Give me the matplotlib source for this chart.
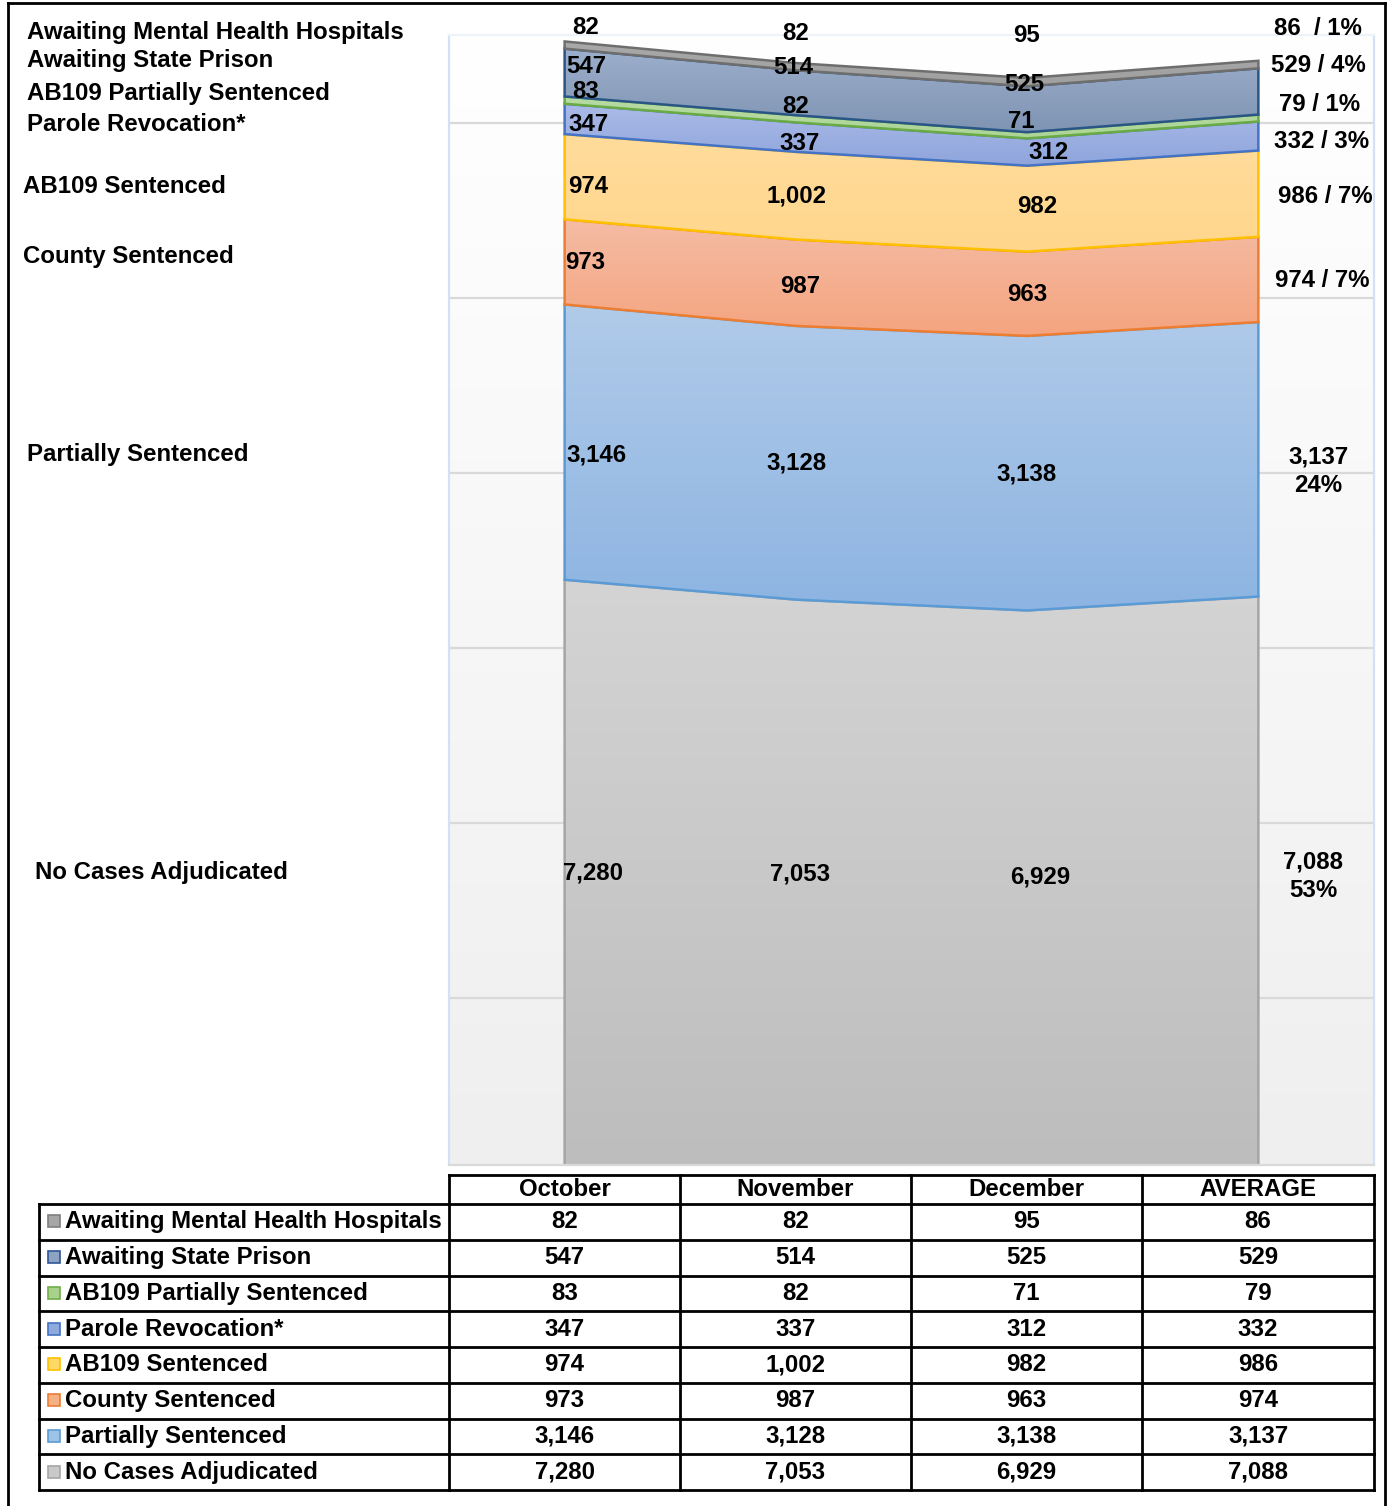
import numpy as np
import matplotlib
matplotlib.use("Agg")
import matplotlib.pyplot as plt
from matplotlib.colors import LinearSegmentedColormap
from matplotlib.patches import Rectangle

# ---------------- data ----------------
categories = ["October", "November", "December", "AVERAGE"]
series_names = [
    "Awaiting Mental Health Hospitals",
    "Awaiting State Prison",
    "AB109 Partially Sentenced",
    "Parole Revocation*",
    "AB109 Sentenced",
    "County Sentenced",
    "Partially Sentenced",
    "No Cases Adjudicated",
]
mental_health = [82, 82, 95, 86]
state_prison = [547, 514, 525, 529]
ab109_partial = [83, 82, 71, 79]
parole_revocation = [347, 337, 312, 332]
ab109_sentenced = [974, 1002, 982, 986]
county_sentenced = [973, 987, 963, 974]
partially_sentenced = [3146, 3128, 3138, 3137]
no_cases = [7280, 7053, 6929, 7088]
average_pct = [1, 4, 1, 3, 7, 7, 24, 53]

series_values = [mental_health, state_prison, ab109_partial, parole_revocation,
                 ab109_sentenced, county_sentenced, partially_sentenced, no_cases]

# styles (top color, bottom color, edge color) per series, table order
styles = [
    ("#a9a9a9", "#a0a0a0", "#6e6e6e"),
    ("#9cafcc", "#7f94b3", "#2a5686"),
    ("#b7dba3", "#add597", "#6aaa45"),
    ("#abbae7", "#8ea5dc", "#4472c4"),
    ("#ffdc9c", "#ffd68b", "#ffc000"),
    ("#f5bca4", "#f4a47f", "#ed7d31"),
    ("#b1cbe9", "#8db4e2", "#5b9bd5"),
    ("#d4d4d4", "#bdbdbd", "#a5a5a5"),
]
key_colors = [
    ("#a6a6a6", "#7f7f7f"),
    ("#8ea3c2", "#2f5597"),
    ("#a9d18e", "#70ad47"),
    ("#8faadc", "#4472c4"),
    ("#ffd966", "#ffc000"),
    ("#f4b183", "#ed7d31"),
    ("#9dc3e6", "#5b9bd5"),
    ("#c9c9c9", "#a5a5a5"),
]

W, H = 1391, 1506
FONT = "Liberation Sans"
FS = 17.3

fig = plt.figure(figsize=(W / 100, H / 100), dpi=100)
fig.patch.set_facecolor("white")

# ---------------- main area chart ----------------
PXU = 0.0875
ylo = 2500 - (1165 - 998) / PXU
yhi = 2500 + (998 - 35) / PXU
ax = fig.add_axes([449 / W, 1 - 1165 / H, 925 / W, 1130 / H])
ax.set_xlim(-0.5, 3.5)
ax.set_ylim(ylo, yhi)

bg = LinearSegmentedColormap.from_list("bg", ["#efefef", "#ffffff"])
ax.imshow(np.linspace(0, 1, 256).reshape(-1, 1), extent=[-0.5, 3.5, ylo, yhi],
          origin="lower", aspect="auto", cmap=bg, zorder=0)

ax.set_yticks(np.arange(2500, 13000, 2000))
ax.set_axisbelow(True)
ax.yaxis.grid(True, color="#d9d9d9", lw=1.6)
ax.tick_params(left=False, bottom=False, labelleft=False, labelbottom=False)
ax.set_xticks([])
for side, col in [("left", "#d3e1f2"), ("right", "#d3e1f2"),
                  ("top", "#eef3fa"), ("bottom", "#d9d9d9")]:
    ax.spines[side].set_color(col)
    ax.spines[side].set_linewidth(1.6)

x = np.arange(len(categories))
stack = np.array(series_values[::-1], dtype=float)  # bottom to top
cum = np.vstack([np.zeros(len(x)), np.cumsum(stack, axis=0)])
st_bottom_up = styles[::-1]
for i in range(stack.shape[0]):
    lower, upper = cum[i], cum[i + 1]
    top_c, bot_c, edge_c = st_bottom_up[i]
    z = 2 + i
    xs = np.concatenate([x, x[::-1]])
    ys = np.concatenate([upper, lower[::-1]])
    poly = ax.fill(xs, ys, facecolor="none", edgecolor=edge_c, lw=1.8, zorder=z + 0.5)[0]
    cmap = LinearSegmentedColormap.from_list("g%d" % i, [bot_c, top_c])
    im = ax.imshow(np.linspace(0, 1, 256).reshape(-1, 1),
                   extent=[0, 3, max(lower.min(), ylo), upper.max()],
                   origin="lower", aspect="auto", cmap=cmap, zorder=z)
    im.set_clip_path(poly)
ax.set_xlim(-0.5, 3.5)
ax.set_ylim(ylo, yhi)

# ---------------- overlay (pixel coords) ----------------
ov = fig.add_axes([0, 0, 1, 1], zorder=10)
ov.set_xlim(0, W)
ov.set_ylim(H, 0)
ov.axis("off")
ov.patch.set_alpha(0)

def txt(xp, yp, s, ha="center", size=FS, ls=1.05):
    ov.text(xp, yp, s, ha=ha, va="center", fontsize=size, fontweight="bold",
            family=FONT, color="black", linespacing=ls)

# series labels on the left
left_pos = [(27, 32), (27, 60), (27, 93), (27, 124), (23, 186), (23, 256), (27, 454), (35, 872)]
for name, (xp, yp) in zip(series_names, left_pos):
    txt(xp, yp, name, ha="left")

# data labels inside the chart
label_pos = [
    [(586, 27), (796, 33), (1027, 35), (1318, 28)],
    [(586, 66), (793, 67), (1024, 84), (1318, 65)],
    [(586, 91), (796, 106), (1021, 121), (1320, 104)],
    [(588, 124), (800, 143), (1048, 152), (1322, 141)],
    [(588, 186), (796, 196), (1037, 206), (1325, 196)],
    [(585, 262), (800, 286), (1027, 294), (1322, 280)],
    [(596, 455), (796, 463), (1027, 474), (1318, 471)],
    [(593, 873), (800, 874), (1040, 877), (1313, 876)],
]
for si, vals in enumerate(series_values):
    for ci, v in enumerate(vals):
        xp, yp = label_pos[si][ci]
        if ci < 3:
            txt(xp, yp, f"{v:,}")
        else:
            if si >= 6:
                txt(xp, yp, f"{v:,}\n{average_pct[si]}%", ls=1.3)
            elif si == 0:
                txt(xp, yp, f"{v:,}  / {average_pct[si]}%")
            else:
                txt(xp, yp, f"{v:,} / {average_pct[si]}%")

# ---------------- data table ----------------
col_edges = [449, 680, 911, 1142, 1374]
row_edges = [1204 + 35.75 * k for k in range(9)]
lw_t = 2.0
ov.plot([449, 1374], [1175, 1175], color="black", lw=lw_t)
for xe in col_edges:
    ov.plot([xe, xe], [1175, row_edges[-1]], color="black", lw=lw_t)
ov.plot([39, 39], [row_edges[0], row_edges[-1]], color="black", lw=lw_t)
for ye in row_edges:
    ov.plot([39, 1374], [ye, ye], color="black", lw=lw_t)

for ci, cat in enumerate(categories):
    cx = (col_edges[ci] + col_edges[ci + 1]) / 2
    txt(cx, 1189, cat)

for si, name in enumerate(series_names):
    cy = (row_edges[si] + row_edges[si + 1]) / 2
    fc, ec = key_colors[si]
    ov.add_patch(Rectangle((48, cy - 6.5), 12, 12, facecolor=fc, edgecolor=ec, lw=1.2))
    txt(65, cy, name, ha="left")
    for ci, v in enumerate(series_values[si]):
        cx = (col_edges[ci] + col_edges[ci + 1]) / 2
        txt(cx, cy, f"{v:,}")

# outer frame
ov.plot([8, 8], [3, H], color="black", lw=2)
ov.plot([8, 1385], [3, 3], color="black", lw=2)
ov.plot([1385, 1385], [3, H], color="black", lw=2)

fig.savefig("out.png", dpi=100, facecolor="white")
